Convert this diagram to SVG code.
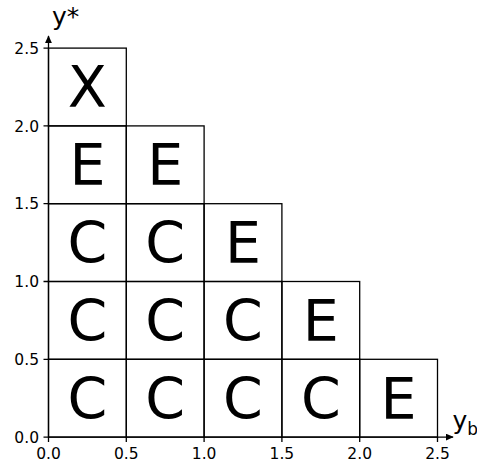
<svg xmlns="http://www.w3.org/2000/svg" width="477" height="466" viewBox="0 0 477 466">
<defs>
<style>
.cell{fill:none;stroke:#000;stroke-width:1.3}
.ax{fill:none;stroke:#000;stroke-width:1.3}
.big{font-family:"DejaVu Sans",sans-serif;font-size:57px;text-anchor:middle;fill:#000}
.tl{font-family:"DejaVu Sans",sans-serif;font-size:15.5px;fill:#000}
.lab{font-family:"DejaVu Sans",sans-serif;font-size:25px;fill:#000}
</style>
<marker id="ah" viewBox="0 0 10 10" refX="9" refY="5" markerWidth="8" markerHeight="7" markerUnits="userSpaceOnUse" orient="auto" preserveAspectRatio="none"><path d="M0,0 L10,5 L0,10 z" fill="#000"/></marker>
</defs>
<rect width="477" height="466" fill="#fff"/>
<g id="cells">
<g id="c00"><rect class="cell" x="48.5" y="359.3" width="77.8" height="77.8"/><text class="big" x="87.4" y="418.5">C</text></g>
<g id="c10"><rect class="cell" x="126.3" y="359.3" width="77.8" height="77.8"/><text class="big" x="165.2" y="418.5">C</text></g>
<g id="c20"><rect class="cell" x="204.1" y="359.3" width="77.8" height="77.8"/><text class="big" x="243" y="418.5">C</text></g>
<g id="c30"><rect class="cell" x="281.9" y="359.3" width="77.8" height="77.8"/><text class="big" x="320.8" y="418.5">C</text></g>
<g id="c40"><rect class="cell" x="359.7" y="359.3" width="77.8" height="77.8"/><text class="big" x="398.6" y="418.5">E</text></g>
<g id="c01"><rect class="cell" x="48.5" y="281.5" width="77.8" height="77.8"/><text class="big" x="87.4" y="340.7">C</text></g>
<g id="c11"><rect class="cell" x="126.3" y="281.5" width="77.8" height="77.8"/><text class="big" x="165.2" y="340.7">C</text></g>
<g id="c21"><rect class="cell" x="204.1" y="281.5" width="77.8" height="77.8"/><text class="big" x="243" y="340.7">C</text></g>
<g id="c31"><rect class="cell" x="281.9" y="281.5" width="77.8" height="77.8"/><text class="big" x="320.8" y="340.7">E</text></g>
<g id="c02"><rect class="cell" x="48.5" y="203.7" width="77.8" height="77.8"/><text class="big" x="87.4" y="262.9">C</text></g>
<g id="c12"><rect class="cell" x="126.3" y="203.7" width="77.8" height="77.8"/><text class="big" x="165.2" y="262.9">C</text></g>
<g id="c22"><rect class="cell" x="204.1" y="203.7" width="77.8" height="77.8"/><text class="big" x="243" y="262.9">E</text></g>
<g id="c03"><rect class="cell" x="48.5" y="125.9" width="77.8" height="77.8"/><text class="big" x="87.4" y="185.1">E</text></g>
<g id="c13"><rect class="cell" x="126.3" y="125.9" width="77.8" height="77.8"/><text class="big" x="165.2" y="185.1">E</text></g>
<g id="c04"><rect class="cell" x="48.5" y="48.1" width="77.8" height="77.8"/><text class="big" x="87.4" y="107.3">X</text></g>
</g>
<g id="axes">
<line class="ax" x1="48.5" y1="437.1" x2="453" y2="437.1" marker-end="url(#ah)"/>
<line class="ax" x1="48.5" y1="437.1" x2="48.5" y2="36" marker-end="url(#ah)"/>
<path class="ax" d="M48.5,437.1v5 M126.3,437.1v5 M204.1,437.1v5 M281.9,437.1v5 M359.7,437.1v5 M437.5,437.1v5 M43.5,437.1h5 M43.5,359.3h5 M43.5,281.5h5 M43.5,203.7h5 M43.5,125.9h5 M43.5,48.1h5"/>
</g>
<g id="labels">
<g class="tl" text-anchor="middle">
<text x="48.5" y="458.5">0.0</text><text x="126.3" y="458.5">0.5</text><text x="204.1" y="458.5">1.0</text><text x="281.9" y="458.5">1.5</text><text x="359.7" y="458.5">2.0</text><text x="437.5" y="458.5">2.5</text>
</g>
<g class="tl" text-anchor="end">
<text x="39" y="442.8">0.0</text><text x="39" y="365">0.5</text><text x="39" y="287.2">1.0</text><text x="39" y="209.4">1.5</text><text x="39" y="131.6">2.0</text><text x="39" y="53.8">2.5</text>
</g>
<text class="lab" x="52" y="25">y*</text>
<text class="lab" x="452.5" y="428.5" font-size="28">y<tspan font-size="17" dy="6">b</tspan></text>
</g>
</svg>
